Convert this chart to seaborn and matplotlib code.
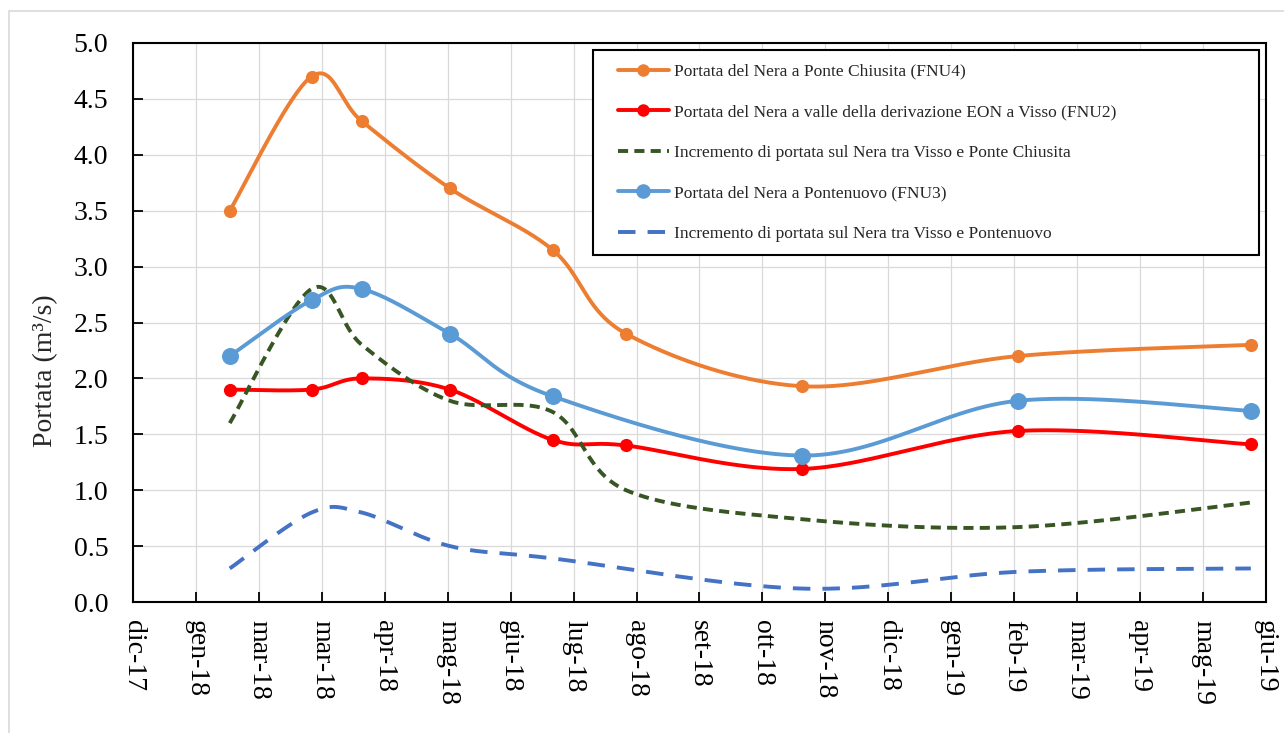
import numpy as np
import pandas as pd
import matplotlib
matplotlib.use("Agg")
import matplotlib.pyplot as plt
import matplotlib.dates as mdates
from matplotlib.lines import Line2D
from matplotlib.legend_handler import HandlerLine2D
from matplotlib.patches import Rectangle
import seaborn as sns

# --- data -----------------------------------------------------------------
dates_main = ["2018-02-15", "2018-03-26", "2018-04-19", "2018-05-31", "2018-07-19",
              "2018-08-23", "2018-11-15", "2019-02-26", "2019-06-17"]
dates_fnu3 = ["2018-02-15", "2018-03-26", "2018-04-19", "2018-05-31", "2018-07-19",
              "2018-11-15", "2019-02-26", "2019-06-17"]

fnu4_ponte_chiusita = [3.50, 4.70, 4.30, 3.70, 3.15, 2.40, 1.93, 2.20, 2.30]
fnu2_valle_visso = [1.90, 1.90, 2.00, 1.90, 1.45, 1.40, 1.19, 1.53, 1.41]
incr_visso_chiusita = [1.60, 2.80, 2.30, 1.80, 1.70, 1.00, 0.74, 0.67, 0.89]
fnu3_pontenuovo = [2.20, 2.70, 2.80, 2.40, 1.84, 1.31, 1.80, 1.71]
incr_visso_pontenuovo = [0.30, 0.80, 0.80, 0.50, 0.39, 0.12, 0.27, 0.30]

labels = [
    "Portata del Nera a Ponte Chiusita (FNU4)",
    "Portata del Nera a valle della derivazione EON a Visso (FNU2)",
    "Incremento di portata sul Nera tra Visso e Ponte Chiusita",
    "Portata del Nera a Pontenuovo (FNU3)",
    "Incremento di portata sul Nera tra Visso e Pontenuovo",
]

tick_start = "2017-12-31"
tick_step_days = 30
tick_labels = ["dic-17", "gen-18", "mar-18", "mar-18", "apr-18", "mag-18", "giu-18",
               "lug-18", "ago-18", "set-18", "ott-18", "nov-18", "dic-18", "gen-19",
               "feb-19", "mar-19", "apr-19", "mag-19", "giu-19"]
y_ticks = [0.0, 0.5, 1.0, 1.5, 2.0, 2.5, 3.0, 3.5, 4.0, 4.5, 5.0]

# --- style ----------------------------------------------------------------
sns.set_style("ticks")
plt.rcParams["font.family"] = ["Liberation Serif", "DejaVu Serif"]

W_PX, H_PX = 1284, 733
fig = plt.figure(figsize=(W_PX / 100, H_PX / 100), dpi=100)
ax = fig.add_axes([133.3 / W_PX, 1 - 602 / H_PX, (1265.5 - 133.3) / W_PX, 559 / H_PX])

x0 = mdates.date2num(pd.Timestamp(tick_start))
xticks = [x0 + tick_step_days * k for k in range(len(tick_labels))]
x1 = xticks[-1]
y0, y1 = 0.0, 5.0
ax.set_xlim(x0, x1)
ax.set_ylim(y0, y1)

AX_W, AX_H = 1132.2, 559.0


def smooth_curve(xd, yd, n=60):
    """Catmull-Rom style Bezier smoothing done in screen proportions."""
    xs = np.asarray(xd, float)
    ys = np.asarray(yd, float)
    P = np.column_stack([(xs - x0) / (x1 - x0) * AX_W, (ys - y0) / (y1 - y0) * AX_H])
    out = []
    t = np.linspace(0, 1, n)[:, None]
    for i in range(len(P) - 1):
        p0 = P[i - 1] if i > 0 else P[i]
        p1, p2 = P[i], P[i + 1]
        p3 = P[i + 2] if i + 2 < len(P) else P[i + 1]
        c1 = p1 + (p2 - p0) / 6.0
        c2 = p2 - (p3 - p1) / 6.0
        seg = ((1 - t) ** 3) * p1 + 3 * ((1 - t) ** 2) * t * c1 + 3 * (1 - t) * t ** 2 * c2 + t ** 3 * p2
        out.append(seg if i == 0 else seg[1:])
    S = np.vstack(out)
    return S[:, 0] / AX_W * (x1 - x0) + x0, S[:, 1] / AX_H * (y1 - y0) + y0


xm = mdates.date2num(pd.to_datetime(dates_main))
x3 = mdates.date2num(pd.to_datetime(dates_fnu3))

c_orange = "#ED7D31"
c_red = "#FF0000"
c_green = "#375623"
c_lblue = "#5B9BD5"
c_blue = "#4472C4"
LW = 2.8

# gridlines
for xt in xticks:
    ax.axvline(xt, color="#D9D9D9", lw=0.9, zorder=0)
for yt in y_ticks:
    ax.axhline(yt, color="#D9D9D9", lw=0.9, zorder=0)

series = [
    (xm, fnu4_ponte_chiusita, c_orange, None, 90),
    (xm, fnu2_valle_visso, c_red, None, 90),
    (xm, incr_visso_chiusita, c_green, (2.6, 1.6), 0),
    (x3, fnu3_pontenuovo, c_lblue, None, 150),
    (x3, incr_visso_pontenuovo, c_blue, (4.5, 3.1), 0),
]

for xs, ys, col, dash, msize in series:
    cx, cy = smooth_curve(xs, ys)
    sns.lineplot(x=cx, y=cy, sort=False, estimator=None, color=col, lw=LW, ax=ax, zorder=3)
    line = ax.lines[-1]
    line.set_solid_capstyle("round")
    if dash is not None:
        line.set_dashes(dash)
        line.set_dash_capstyle("butt")
    if msize:
        sns.scatterplot(x=xs, y=ys, color=col, s=msize, linewidth=0, ax=ax, zorder=4, legend=False)

# axes appearance
for sp in ax.spines.values():
    sp.set_visible(True)
    sp.set_color("black")
    sp.set_linewidth(1.5)
ax.set_xticks(xticks)
ax.set_xticklabels(tick_labels, rotation=-90, ha="center", va="top")
ax.set_yticks(y_ticks)
ax.set_yticklabels([f"{v:.1f}" for v in y_ticks])
ax.tick_params(axis="both", direction="in", length=7, width=1.3, colors="black", labelsize=20)
ax.tick_params(axis="x", pad=13)
ax.tick_params(axis="y", pad=18)
ax.set_xlabel("")
ax.set_ylabel("Portata (m³/s)", fontsize=20, rotation=90, va="center", ha="center")
ax.yaxis.set_label_coords((46 - 133.3) / AX_W, (602 - 371) / AX_H)
ax.grid(False)


# legend
class PaddedLineHandler(HandlerLine2D):
    def __init__(self, lead=0.0, **kw):
        super().__init__(**kw)
        self.lead = lead

    def create_artists(self, legend, orig_handle, xdescent, ydescent, width, height, fontsize, trans):
        return super().create_artists(legend, orig_handle, xdescent - self.lead, ydescent,
                                      width - self.lead, height, fontsize, trans)


handles = [
    Line2D([], [], color=c_orange, lw=LW, marker="o", markersize=9, markeredgewidth=0),
    Line2D([], [], color=c_red, lw=LW, marker="o", markersize=9, markeredgewidth=0),
    Line2D([], [], color=c_green, lw=LW, dashes=(2.6, 1.6), dash_capstyle="butt"),
    Line2D([], [], color=c_lblue, lw=LW, marker="o", markersize=10.5, markeredgewidth=0),
    Line2D([], [], color=c_blue, lw=LW, dashes=(4.5, 3.1), dash_capstyle="butt"),
]
leg_fs = 12.5
lead_px = 11
hmap = {h: PaddedLineHandler(lead=lead_px * 72 / 100) for h in handles}
leg = ax.legend(handles, labels, loc="upper left",
                bbox_to_anchor=(593 / W_PX, 1 - 251 / H_PX, 666 / W_PX, 201 / H_PX),
                bbox_transform=fig.transFigure, mode="expand", fontsize=leg_fs,
                frameon=True, fancybox=False, framealpha=1, edgecolor="black",
                borderpad=0.79, labelspacing=1.4, handlelength=3.6, handletextpad=0.3,
                numpoints=1, handler_map=hmap, borderaxespad=0)
leg.get_frame().set_linewidth(1.5)
leg.set_zorder(10)

# outer chart-area border
fig.add_artist(Rectangle((9 / W_PX, -0.05), 1.2, 1 - 11 / H_PX + 0.05, transform=fig.transFigure,
                         fill=False, edgecolor="#D9D9D9", lw=1.2, zorder=0))

fig.savefig("out.png", dpi=100, facecolor="white")
